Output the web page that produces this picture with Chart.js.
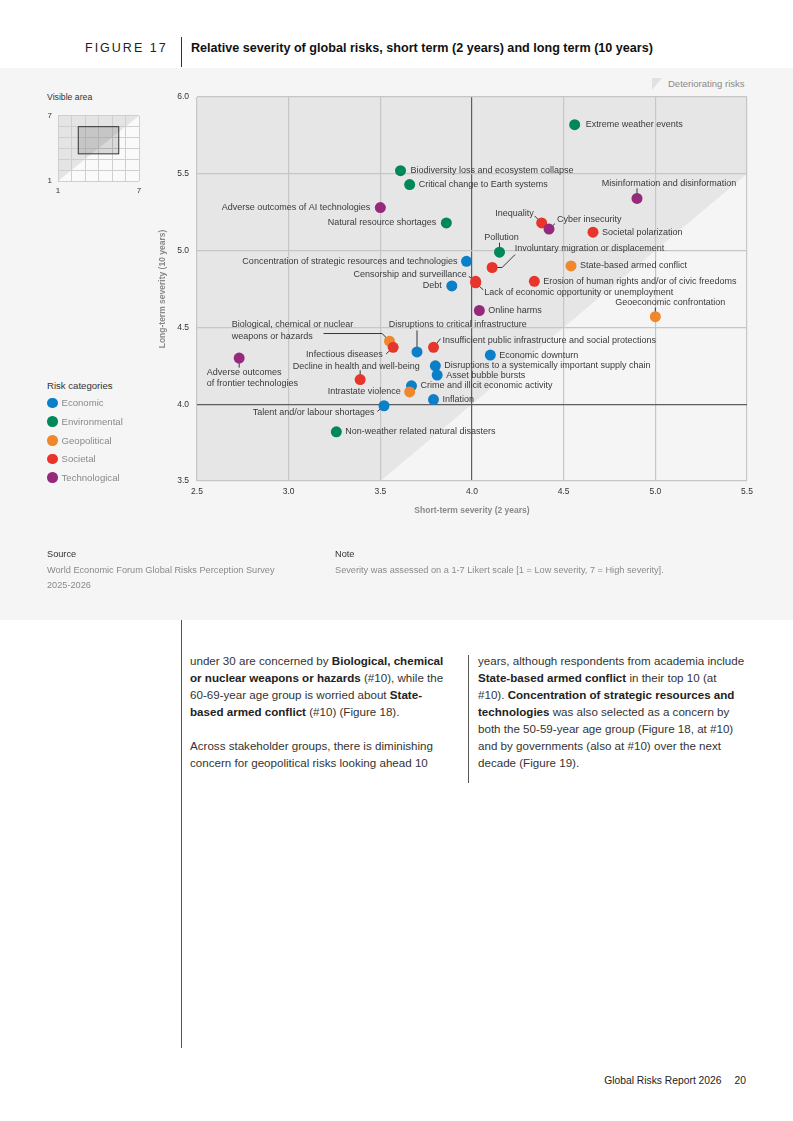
<!DOCTYPE html>
<html>
<head>
<meta charset="utf-8">
<script src="https://cdn.jsdelivr.net/npm/chart.js@4.4.1/dist/chart.umd.min.js"></script>
<style>
  html, body { margin: 0; padding: 0; }
  body {
    width: 793px; height: 1121px; position: relative; overflow: hidden;
    background: #fff; font-family: "Liberation Sans", Arial, sans-serif; color: #333;
  }
  .abs { position: absolute; white-space: nowrap; }
  .fig-num { left: 85px; top: 41px; line-height: 14px; font-size: 12.5px; letter-spacing: 2px; color: #222; }
  .fig-rule { left: 181px; top: 37px; width: 1px; height: 30px; background: #333; }
  .fig-title { left: 191px; top: 41px; line-height: 14px; font-size: 12.6px; font-weight: bold; color: #111; }
  .panel { left: 0; top: 68px; width: 793px; height: 552px; background: #f5f5f5; }
  .det-icon { left: 652px; top: 78px; width: 10px; height: 12px; background: #e1e1e1; clip-path: polygon(0 0, 100% 0, 0 100%); }
  .det-text { left: 668px; top: 78px; line-height: 12px; font-size: 9.5px; color: #8a8a8a; }
  .small-head { left: 47px; line-height: 12px; font-size: 8.7px; color: #333; }
  .legend-item { left: 47px; line-height: 12px; font-size: 9.6px; color: #8a8a8a; }
  .legend-item i { display: inline-block; width: 10.5px; height: 10.5px; border-radius: 50%; vertical-align: -2px; margin-right: 4px; }
  .meta-head { top: 548px; line-height: 12px; font-size: 9.2px; color: #333; }
  .meta-text { top: 563px; line-height: 15px; font-size: 9.2px; color: #8a8a8a; }
  .col { top: 652px; line-height: 17px; font-size: 11.6px; color: #333; }
  .col b { color: #222; }
  .col-rule { left: 468px; top: 655px; width: 1px; height: 128px; background: #555; }
  .page-rule { left: 181px; top: 620px; width: 1px; height: 428px; background: #555; }
  .footer { right: 47px; top: 1075px; line-height: 12px; font-size: 10.3px; color: #222; }
  canvas { position: absolute; }
</style>
</head>
<body>

<div class="abs fig-num">FIGURE 17</div>
<div class="abs fig-rule"></div>
<div class="abs fig-title">Relative severity of global risks, short term (2 years) and long term (10 years)</div>

<div class="abs panel"></div>
<div class="abs det-icon"></div>
<div class="abs det-text">Deteriorating risks</div>

<div class="abs small-head" style="top:91px">Visible area</div>
<canvas id="insetChart" style="left:40px; top:105px; width:110px; height:95px" width="110" height="95"></canvas>

<div class="abs small-head" style="top:380px; font-size:9.6px">Risk categories</div>
<div id="legend"></div>

<canvas id="riskChart" style="left:0; top:68px; width:793px; height:480px" width="793" height="480"></canvas>

<div class="abs meta-head" style="left:47px">Source</div>
<div class="abs meta-text" style="left:47px">World Economic Forum Global Risks Perception Survey<br>2025-2026</div>
<div class="abs meta-head" style="left:335px">Note</div>
<div class="abs meta-text" style="left:335px">Severity was assessed on a 1-7 Likert scale [1 = Low severity, 7 = High severity].</div>

<div class="abs page-rule"></div>
<div class="abs col" style="left:190px">
  under 30 are concerned by <b>Biological, chemical</b><br>
  <b>or nuclear weapons or hazards</b> (#10), while the<br>
  60-69-year age group is worried about <b>State-</b><br>
  <b>based armed conflict</b> (#10) (Figure 18).<br>
  <br>
  Across stakeholder groups, there is diminishing<br>
  concern for geopolitical risks looking ahead 10
</div>
<div class="abs col-rule"></div>
<div class="abs col" style="left:478px">
  years, although respondents from academia include<br>
  <b>State-based armed conflict</b> in their top 10 (at<br>
  #10). <b>Concentration of strategic resources and</b><br>
  <b>technologies</b> was also selected as a concern by<br>
  both the 50-59-year age group (Figure 18, at #10)<br>
  and by governments (also at #10) over the next<br>
  decade (Figure 19).
</div>

<div class="abs footer">Global Risks Report 2026<span style="margin-left:13px">20</span></div>

<script>
/* ---------------------------------
   Data
----------------------------------*/
const categories = ["Economic", "Environmental", "Geopolitical", "Societal", "Technological"];

const risks = [
    "Extreme weather events",
    "Biodiversity loss and ecosystem collapse",
    "Critical change to Earth systems",
    "Adverse outcomes of AI technologies",
    "Natural resource shortages",
    "Misinformation and disinformation",
    "Inequality",
    "Cyber insecurity",
    "Societal polarization",
    "Pollution",
    "Concentration of strategic resources and technologies",
    "Involuntary migration or displacement",
    "State-based armed conflict",
    "Censorship and surveillance",
    "Lack of economic opportunity or unemployment",
    "Erosion of human rights and/or of civic freedoms",
    "Debt",
    "Online harms",
    "Geoeconomic confrontation",
    "Biological, chemical or nuclear weapons or hazards",
    "Infectious diseases",
    "Insufficient public infrastructure and social protections",
    "Disruptions to critical infrastructure",
    "Economic downturn",
    "Adverse outcomes of frontier technologies",
    "Disruptions to a systemically important supply chain",
    "Asset bubble bursts",
    "Decline in health and well-being",
    "Crime and illicit economic activity",
    "Intrastate violence",
    "Inflation",
    "Talent and/or labour shortages",
    "Non-weather related natural disasters"
];

// short-term severity (2 years)
const shortTerm = [
    4.56, 3.61, 3.66, 3.50, 3.86, 4.90, 4.38, 4.42, 4.66, 4.15, 3.97,
    4.11, 4.54, 4.02, 4.02, 4.34, 3.89, 4.04, 5.00, 3.55, 3.57, 3.79,
    3.70, 4.10, 2.73, 3.80, 3.81, 3.39, 3.67, 3.66, 3.79, 3.52, 3.26
];

// long-term severity (10 years)
const longTerm = [
    5.82, 5.52, 5.43, 5.28, 5.18, 5.34, 5.18, 5.14, 5.12, 4.99, 4.93,
    4.89, 4.90, 4.80, 4.79, 4.80, 4.77, 4.61, 4.57, 4.41, 4.37, 4.37,
    4.34, 4.32, 4.30, 4.25, 4.19, 4.16, 4.12, 4.08, 4.03, 3.99, 3.82
];

const riskCategory = [
    "Environmental", "Environmental", "Environmental", "Technological", "Environmental",
    "Technological", "Societal", "Technological", "Societal", "Environmental", "Economic",
    "Societal", "Geopolitical", "Societal", "Societal", "Societal", "Economic",
    "Technological", "Geopolitical", "Geopolitical", "Societal", "Societal",
    "Economic", "Economic", "Technological", "Economic", "Economic", "Societal",
    "Economic", "Geopolitical", "Economic", "Economic", "Environmental"
];

const xTicks = [2.5, 3.0, 3.5, 4.0, 4.5, 5.0, 5.5];
const yTicks = [3.5, 4.0, 4.5, 5.0, 5.5, 6.0];
const likertTicks = [1, 2, 3, 4, 5, 6, 7];

/* ---------------------------------
   Styling
----------------------------------*/
const categoryColors = {
    Economic:      "#0b7fc7",
    Environmental: "#00875a",
    Geopolitical:  "#f0872b",
    Societal:      "#e8352b",
    Technological: "#952a7d"
};

// label placement, in pixels relative to each dot
const labelPlacement = {
    "Extreme weather events":                 { dx: 11 },
    "Biodiversity loss and ecosystem collapse": { dx: 10 },
    "Adverse outcomes of AI technologies":    { align: "right", dx: -10 },
    "Natural resource shortages":             { align: "right", dx: -10 },
    "Misinformation and disinformation":      { align: "center", dx: 32, dy: -15, leader: [[0, -10], [0, 0]] },
    "Inequality":                             { align: "right", dx: -8, dy: -9, leader: [[-7, -7], [0, 0]] },
    "Cyber insecurity":                       { dx: 8, dy: -10, leader: [[6, -5.5], [0, 0]] },
    "Pollution":                              { align: "center", dx: 2, dy: -15, leader: [[0, -9.5], [0, 0]] },
    "Concentration of strategic resources and technologies": { align: "right", dx: -9 },
    "Involuntary migration or displacement":  { dx: 22.5, dy: -18.5, leader: [[0, 0], [10, 0], [23, -13]] },
    "Censorship and surveillance":            { align: "right", dx: -9, dy: -7.3, leader: [[-7, -5], [0, 0]] },
    "Lack of economic opportunity or unemployment": { dx: 8.5, dy: 10, leader: [[0, 0], [7.6, 7]] },
    "Debt":                                   { align: "right", dx: -10 },
    "Geoeconomic confrontation":              { align: "center", dx: 15, dy: -14.5, leader: [[0, -9], [0, 0]] },
    "Biological, chemical or nuclear weapons or hazards":
        { dx: -157.7, dy: -16.3, lines: ["Biological, chemical or nuclear", "weapons or hazards"],
          leader: [[-66, -7.7], [-7.3, -7.7], [0, 0]] },
    "Infectious diseases":                    { align: "right", dx: -10.5, dy: 7.6, leader: [[-7, 6.6], [0, 0]] },
    "Insufficient public infrastructure and social protections": { dx: 9, dy: -7.3, leader: [[0, 0], [7, -8.7]] },
    "Disruptions to critical infrastructure": { dx: -28.3, dy: -27.6, leader: [[0, -21.6], [0, 0]] },
    "Adverse outcomes of frontier technologies":
        { dx: -32.3, dy: 14.6, lines: ["Adverse outcomes", "of frontier technologies"], leader: [[0, 0], [0, 9.5]] },
    "Decline in health and well-being":       { align: "center", dx: -4, dy: -13.6, leader: [[0, -9.3], [0, 0]] },
    "Intrastate violence":                    { align: "right", dx: -9 },
    "Talent and/or labour shortages":         { align: "right", dx: -9.6, dy: 6.7, leader: [[-6.6, 5.7], [0, 0]] }
};

const FONT = "'Liberation Sans', Arial, sans-serif";
Chart.defaults.font.family = FONT;

/* ---------------------------------
   Legend (HTML)
----------------------------------*/
function buildLegend() {
    const box = document.getElementById("legend");
    categories.forEach((c, i) => {
        const el = document.createElement("div");
        el.className = "abs legend-item";
        el.style.top = (397.3 + i * 18.6) + "px";
        el.innerHTML = `<i style="background:${categoryColors[c]}"></i>${c}`;
        box.appendChild(el);
    });
}

/* ---------------------------------
   Plugins
----------------------------------*/
const shadePlugin = {
    id: "shade",
    beforeDraw(chart) {
        const { ctx, chartArea: a, scales: { x, y } } = chart;
        const lo = Math.max(x.min, y.min);
        const hi = Math.min(x.max, y.max);
        ctx.save();
        ctx.fillStyle = "#f5f5f5";
        ctx.fillRect(a.left, a.top, a.width, a.height);
        // region where long-term > short-term
        const poly = [[x.min, y.min], [lo, lo], [hi, hi], [x.max, y.max], [x.min, y.max]];
        ctx.beginPath();
        poly.forEach(([vx, vy], i) => {
            const px = x.getPixelForValue(vx), py = y.getPixelForValue(vy);
            if (i === 0) ctx.moveTo(px, py); else ctx.lineTo(px, py);
        });
        ctx.closePath();
        ctx.fillStyle = "#e6e6e6";
        ctx.fill();
        ctx.restore();
    }
};

const labelPlugin = {
    id: "riskLabels",
    beforeDatasetsDraw(chart) {
        const { ctx } = chart;
        const pts = chart.getDatasetMeta(0).data;
        ctx.save();
        ctx.strokeStyle = "#222";
        ctx.lineWidth = 0.9;
        risks.forEach((name, i) => {
            const p = labelPlacement[name];
            if (!p || !p.leader) return;
            ctx.beginPath();
            p.leader.forEach(([lx, ly], k) => {
                if (k === 0) ctx.moveTo(pts[i].x + lx, pts[i].y + ly);
                else ctx.lineTo(pts[i].x + lx, pts[i].y + ly);
            });
            ctx.stroke();
        });
        ctx.restore();
    },
    afterDatasetsDraw(chart) {
        const { ctx } = chart;
        const pts = chart.getDatasetMeta(0).data;
        ctx.save();
        ctx.font = "9px " + FONT;
        ctx.fillStyle = "#3a3a3a";
        ctx.textBaseline = "middle";
        risks.forEach((name, i) => {
            const p = Object.assign({ align: "left", dx: 9, dy: 0 }, labelPlacement[name] || {});
            ctx.textAlign = p.align;
            const lines = p.lines || [name];
            lines.forEach((line, k) => {
                ctx.fillText(line, pts[i].x + p.dx, pts[i].y + p.dy + k * 11.2);
            });
        });
        ctx.restore();
    }
};

/* ---------------------------------
   Main scatter
----------------------------------*/
function gridColor(c) {
    return c.tick && Math.abs(c.tick.value - 4) < 1e-9 ? "#5e5e5e" : "#c6c6c6";
}

function drawRiskChart() {
    const ctx = document.getElementById("riskChart").getContext("2d");

    new Chart(ctx, {
        type: "scatter",
        data: {
            datasets: [{
                data: shortTerm.map((v, i) => ({ x: v, y: longTerm[i] })),
                backgroundColor: riskCategory.map(c => categoryColors[c]),
                pointRadius: 5.5,
                pointHoverRadius: 5.5,
                pointBorderWidth: 0
            }]
        },
        options: {
            responsive: false,
            animation: false,
            events: [],
            layout: { padding: { left: 152, right: 46, top: 29, bottom: 27 } },
            plugins: { legend: { display: false }, tooltip: { enabled: false } },
            scales: {
                x: {
                    type: "linear",
                    min: xTicks[0],
                    max: xTicks[xTicks.length - 1],
                    afterBuildTicks: s => { s.ticks = xTicks.map(v => ({ value: v })); },
                    afterFit: s => { s.height = 40; },
                    border: { display: false },
                    grid: { color: gridColor, lineWidth: 1.2, drawTicks: false },
                    ticks: { padding: 6, color: "#333", font: { size: 8.5 }, callback: v => v.toFixed(1) },
                    title: {
                        display: true, text: "Short-term severity (2 years)",
                        color: "#8a8a8a", font: { size: 8.5, weight: "bold" },
                        padding: { top: 0, bottom: 5 }
                    }
                },
                y: {
                    type: "linear",
                    min: yTicks[0],
                    max: yTicks[yTicks.length - 1],
                    afterBuildTicks: s => { s.ticks = yTicks.map(v => ({ value: v })); },
                    afterFit: s => { s.width = 45; },
                    border: { display: false },
                    grid: { color: gridColor, lineWidth: 1.2, drawTicks: false },
                    ticks: { padding: 8, color: "#333", font: { size: 8.5 }, callback: v => v.toFixed(1) },
                    title: {
                        display: true, text: "Long-term severity (10 years)",
                        color: "#8a8a8a", font: { size: 8.5, weight: "bold" },
                        padding: { top: 6, bottom: 0 }
                    }
                }
            }
        },
        plugins: [shadePlugin, labelPlugin]
    });
}

/* ---------------------------------
   "Visible area" inset
----------------------------------*/
const insetPlugin = {
    id: "inset",
    beforeDraw(chart) {
        const { ctx, chartArea: a, scales: { x, y } } = chart;
        ctx.save();
        ctx.fillStyle = "#fafafa";
        ctx.fillRect(a.left, a.top, a.width, a.height);
        ctx.beginPath();
        ctx.moveTo(x.getPixelForValue(x.min), y.getPixelForValue(y.min));
        ctx.lineTo(x.getPixelForValue(x.max), y.getPixelForValue(y.max));
        ctx.lineTo(x.getPixelForValue(x.min), y.getPixelForValue(y.max));
        ctx.closePath();
        ctx.fillStyle = "#e4e4e4";
        ctx.fill();
        ctx.restore();
    },
    afterDraw(chart) {
        const { ctx, scales: { x, y } } = chart;
        const x0 = x.getPixelForValue(xTicks[0]), x1 = x.getPixelForValue(xTicks[xTicks.length - 1]);
        const y0 = y.getPixelForValue(yTicks[yTicks.length - 1]), y1 = y.getPixelForValue(yTicks[0]);
        ctx.save();
        ctx.fillStyle = "rgba(0,0,0,0.13)";
        ctx.fillRect(x0, y0, x1 - x0, y1 - y0);
        ctx.strokeStyle = "#333";
        ctx.lineWidth = 1;
        ctx.strokeRect(x0, y0, x1 - x0, y1 - y0);
        ctx.restore();
    }
};

function drawInset() {
    const ctx = document.getElementById("insetChart").getContext("2d");
    const edgeOnly = v => (v === likertTicks[0] || v === likertTicks[likertTicks.length - 1]) ? String(v) : "";

    new Chart(ctx, {
        type: "scatter",
        data: { datasets: [{ data: [] }] },
        options: {
            responsive: false,
            animation: false,
            events: [],
            layout: { padding: { left: 0, right: 11, top: 9, bottom: 0 } },
            plugins: { legend: { display: false }, tooltip: { enabled: false } },
            scales: {
                x: {
                    type: "linear", min: likertTicks[0], max: likertTicks[likertTicks.length - 1],
                    afterBuildTicks: s => { s.ticks = likertTicks.map(v => ({ value: v })); },
                    afterFit: s => { s.height = 19; },
                    border: { display: false },
                    grid: { color: "#cfcfcf", lineWidth: 1, drawTicks: false },
                    ticks: { padding: 5, color: "#333", font: { size: 8 }, autoSkip: false, maxRotation: 0, callback: edgeOnly }
                },
                y: {
                    type: "linear", min: likertTicks[0], max: likertTicks[likertTicks.length - 1],
                    afterBuildTicks: s => { s.ticks = likertTicks.map(v => ({ value: v })); },
                    afterFit: s => { s.width = 18; },
                    border: { display: false },
                    grid: { color: "#cfcfcf", lineWidth: 1, drawTicks: false },
                    ticks: { padding: 6, color: "#333", font: { size: 8 }, autoSkip: false, callback: edgeOnly }
                }
            }
        },
        plugins: [insetPlugin]
    });
}

/* ---------------------------------
   Init
----------------------------------*/
buildLegend();
drawRiskChart();
drawInset();
</script>
</body>
</html>
